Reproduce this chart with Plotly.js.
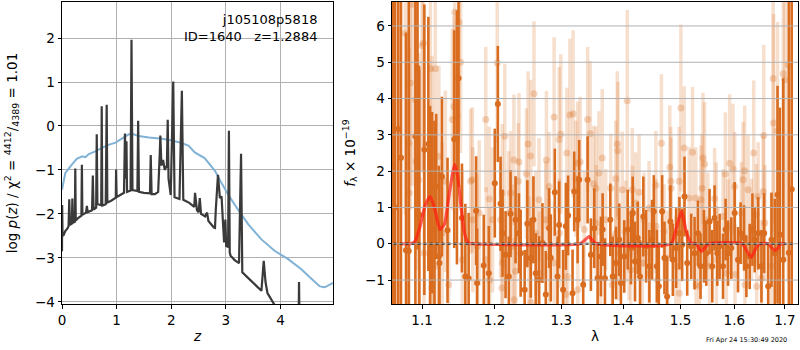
<!DOCTYPE html>
<html>
<head>
<meta charset="utf-8">
<script src="https://cdn.plot.ly/plotly-3.0.1.min.js"></script>
<style>html,body{margin:0;padding:0;background:#fff}#chart{width:800px;height:350px}</style>
</head>
<body>
<div id="chart"></div>
<script>
// ---- left panel: redshift probability ----
const zPz = [0.000,0.003,0.010,0.030,0.060,0.100,0.120,0.133,0.145,0.180,0.190,0.200,0.235,0.243,0.252,0.300,0.355,0.364,0.373,0.440,0.455,0.470,0.550,0.564,0.578,0.625,0.636,0.648,0.718,0.727,0.737,0.800,0.818,0.830,0.900,0.985,0.990,1.000,1.100,1.135,1.152,1.165,1.172,1.180,1.190,1.255,1.272,1.290,1.380,1.394,1.408,1.500,1.610,1.624,1.640,1.700,1.760,1.790,1.800,1.820,1.850,1.880,1.920,1.935,1.950,1.990,2.036,2.060,2.150,2.194,2.220,2.330,2.420,2.435,2.470,2.500,2.522,2.545,2.620,2.655,2.680,2.780,2.800,2.815,2.855,2.890,2.920,2.950,2.967,2.990,3.005,3.040,3.055,3.070,3.085,3.160,3.240,3.277,3.300,3.400,3.650,3.692,3.725,3.760,3.860,3.950,4.000,4.330,4.338,4.350,4.960];
const logPz = [-2.85,-1.80,-2.50,-2.48,-2.39,-2.33,-2.28,-1.67,-2.25,-2.22,-1.65,-2.20,-2.18,-0.97,-2.15,-2.09,-2.04,-0.88,-2.02,-1.97,-1.82,-1.96,-1.92,-1.13,-1.90,-1.86,-0.19,-1.78,-1.80,0.45,-1.81,-1.78,0.48,-1.74,-1.70,-1.63,-0.99,-1.62,-1.55,-1.52,-0.17,-0.90,-1.20,-0.35,-1.50,-1.47,1.96,-1.46,-1.48,0.12,-1.50,-1.52,-1.53,-0.66,-1.55,-1.55,-1.50,-0.60,-0.22,-0.90,-0.77,-1.00,-0.90,0.14,-1.20,-1.57,1.01,-1.62,-1.66,0.80,-1.68,-1.75,-1.84,-1.52,-1.92,-1.96,-1.64,-2.00,-2.06,-1.97,-2.16,-2.31,-2.32,-1.90,-1.11,-1.64,-1.60,-2.28,-2.65,-2.13,-2.73,-2.75,-0.11,-2.88,-2.95,-3.05,-3.12,-0.63,-3.33,-3.45,-3.75,-3.07,-3.55,-3.80,-4.01,-4.20,-4.30,-4.70,-3.55,-4.75,-5.50];
const zPrior = [0.000,0.010,0.061,0.18,0.27,0.37,0.43,0.49,0.61,0.73,0.85,0.98,1.10,1.22,1.31,1.40,1.59,1.83,2.01,2.20,2.32,2.43,2.61,2.80,2.92,3.04,3.22,3.41,3.65,3.89,4.14,4.38,4.57,4.72,4.81,4.93,4.96];
const logPrior = [-1.45,-1.37,-1.07,-0.88,-0.75,-0.69,-0.71,-0.64,-0.58,-0.50,-0.43,-0.38,-0.28,-0.19,-0.19,-0.23,-0.26,-0.29,-0.33,-0.39,-0.45,-0.60,-0.73,-1.02,-1.30,-1.56,-1.90,-2.24,-2.58,-2.84,-3.03,-3.26,-3.48,-3.65,-3.67,-3.59,-3.57];
const zTicks = [0,1,2,3,4];
const logPTicks = [-4,-3,-2,-1,0,1,2];

// ---- right panel: spectrum ----
const lamDark = [1.062,1.065,1.069,1.0725,1.079,1.0825,1.0912,1.094,1.0964,1.1030,1.1083,1.1106,1.1133,1.1165,1.1188,1.1224,1.1232,1.1265,1.1341,1.1433,1.1470,1.1492,1.1539,1.1586,1.1632,1.1737,1.1751,1.1845,1.1917,
1.2003,1.2047,1.2086,1.2115,1.2159,1.2207,1.2232,1.2306,1.2356,1.2381,1.2441,1.2481,1.2531,1.2572,1.2607,1.2657,1.2709,1.2760,1.2811,1.2837,1.2899,1.2941,1.2966,1.3028,1.3071,1.3107,1.3177,1.3203,1.3257,1.3282,1.3346,1.3417,1.3470,1.3524,1.3579,1.3633,1.3661,1.3699,1.3787,1.3827,1.3882,1.3936,1.3964,
1.4020,1.4078,1.4134,1.4163,1.4202,1.4249,1.4288,1.4345,1.4392,1.4449,1.4496,1.4526,1.4579,1.4614,1.4672,1.4713,1.4760,1.4819,1.4862,1.4921,1.4980,1.5029,1.5071,1.5120,1.5193,1.5254,1.5316,1.5364,1.5427,1.5470,1.5531,1.5582,1.5625,1.5676,1.5719,1.5784,1.5833,1.5879,1.5942,
1.6006,1.6071,1.6121,1.6188,1.6233,1.6298,1.6351,1.6396,1.6464,1.6529,1.6583,1.6663,1.6729,1.6796,1.6851,1.6898,1.6967,1.7082,1.7140];
const fluxDark = [2.0,1.0,3.16,2.37,-0.18,-0.20,2.96,4.84,0.80,2.59,2.75,0.80,1.13,0.39,1.58,-0.35,-0.53,1.85,0.37,2.88,2.93,4.56,0.71,-0.90,-0.95,0.91,-1.08,-0.60,-0.81,
1.67,3.85,1.10,0.29,-0.30,-0.90,0.83,0.66,0.29,-0.26,-1.27,0.55,-0.39,0.66,-0.81,-0.99,0.02,-1.40,0.43,-0.39,1.42,-0.90,0.52,-1.27,0.48,0.78,-1.36,1.44,0.66,1.76,-1.13,1.76,-0.30,0.43,-0.95,-0.35,0.39,-0.95,0.66,-0.90,-0.53,0.11,-1.08,
-0.35,0.39,-0.12,0.85,-0.49,0.16,-0.90,0.75,-0.07,-0.62,0.11,0.89,-0.62,-1.17,0.89,-0.39,-1.45,0.61,-0.44,-0.12,0.29,-0.03,1.30,-0.53,-0.07,-0.26,0.29,-0.62,-0.07,-0.26,0.61,-0.62,0.71,-0.26,-0.07,-0.62,0.39,-0.26,-0.12,
0.85,-0.44,0.29,0.16,-0.62,-0.35,0.39,0.11,0.29,-0.62,0.29,-1.17,0.11,-0.26,1.35,0.25,-0.44,-0.25,1.5];
const errDark = [9,9,8,8,6,7,5,5,4,4,3.5,3,2.5,3,2,2.5,2.5,2.2,2,3,3.5,3,1.5,2,1.8,1.5,1.5,1.4,1.3,
1.5,1.6,1.3,1.2,1.2,1.1,1.2,1.2,1.1,1.2,1.1,1.2,1.1,1.2,1.1,1.2,1.1,1.2,1.1,1.2,1.2,1.1,1.2,1.1,1.2,1.1,1.2,1.1,1.2,1.1,1.1,1.2,1.0,1.1,1.0,1.1,1.0,1.1,1.0,1.1,1.0,1.0,1.1,
1.0,1.1,1.0,1.0,1.1,1.0,1.0,1.1,1.0,1.0,1.1,1.0,1.0,1.1,1.0,1.0,1.1,1.0,1.0,1.1,1.0,1.0,1.1,0.9,0.9,1.0,0.9,0.9,1.0,0.9,0.9,1.0,0.9,0.9,0.9,0.9,0.85,0.9,0.85,
0.85,0.9,0.85,0.9,0.85,0.9,1.0,0.9,1.0,1.0,1.1,1.2,1.3,1.5,3.0,3.5,5.0,7.0,8.0];

const lamLight = [1.1440,1.1498,1.1520,1.1429,1.1474,1.1406,1.1017,1.1000,1.0868,1.0780,1.1110,1.1176,1.0912,1.0846,1.0825,1.0920,1.1133,1.1224,1.1312,1.1660,1.1684,1.1874,1.1922,1.1970,1.1140,1.1128,1.1357,1.1170,1.1025,1.1755,1.1880,1.1780,1.1930,1.1544,1.0956,1.0830,1.1690,1.1269,
1.2038,1.2148,1.2281,1.2356,1.2347,1.2232,1.2491,1.2531,1.2581,1.2467,1.2770,1.2888,1.2966,1.2992,1.3087,1.3134,1.3186,1.3257,1.3298,1.3417,1.3459,1.3514,1.3551,1.3229,1.2811,1.2657,1.2110,1.2086,1.2257,1.2115,1.2306,1.2506,1.2660,1.2815,1.2892,1.3097,1.3260,1.3071,1.2105,1.2285,1.2535,1.2207,1.2760,1.2970,1.2607,1.3362,1.3555,
1.4071,1.3903,1.3914,1.3655,1.3877,1.3794,1.3986,1.4156,1.4271,1.4561,1.4659,1.4808,1.4826,1.4830,1.4975,1.5006,1.5066,1.5216,1.5156,1.5278,1.5371,1.3600,1.4214,1.4443,1.3711,1.4160,1.4357,1.4043,1.4565,1.3880,1.4706,1.3628,1.3820,1.4100,1.4129,1.4327,1.4447,1.4766,1.4978,1.5281,1.5340,1.4916,1.4590,1.3930,
1.6763,1.6966,1.6999,1.7068,1.6770,1.6851,1.6575,1.6376,1.5409,1.5439,1.5910,1.5975,1.6199,1.5828,1.6168,1.5390,1.5625,1.6006,1.6266,1.6563,1.6464,1.5657,1.5784,1.5500,1.6135,1.6430,1.6596,1.5879,1.6331,1.5531,1.5847,1.6012,1.6205,1.6434,1.6529,1.6729,1.5660];
const fluxLight = [6.38,6.10,5.00,3.78,3.51,3.42,5.53,5.46,6.60,5.80,4.82,4.82,3.97,4.43,2.77,2.27,2.68,2.41,1.72,1.72,1.76,3.42,1.23,0.66,-1.08,-1.22,-1.13,-0.62,-0.26,-0.07,-0.44,0.85,-0.99,-0.44,1.76,1.40,0.66,0.29,
4.98,2.96,2.31,2.25,1.72,1.40,2.75,2.42,4.13,1.93,2.31,3.49,2.87,3.02,2.50,3.55,3.58,2.22,2.25,3.42,3.03,1.65,1.53,1.79,1.58,1.21,1.40,0.66,-0.07,-0.53,-0.76,-0.49,-0.81,-0.35,-0.53,-0.90,-1.27,-1.40,-1.22,-1.54,-1.62,0.85,0.66,0.29,0.29,0.39,0.57,
3.94,2.75,2.56,2.36,1.79,1.53,1.49,1.49,1.42,1.61,2.77,2.11,1.72,1.53,1.72,3.74,2.64,2.52,1.26,1.26,1.21,1.95,1.12,0.98,0.66,0.85,0.66,0.34,0.48,0.29,0.34,-0.95,-1.13,-0.26,-0.72,-0.53,-0.81,-0.39,-1.36,-1.13,-1.18,-0.62,-0.99,-0.26,
4.55,4.68,4.52,4.93,3.33,3.11,2.98,2.50,2.36,2.20,2.22,2.06,2.01,1.92,1.76,1.53,1.24,1.58,1.49,1.44,1.30,0.94,0.75,0.66,0.85,0.80,0.57,0.48,0.39,-0.62,-0.81,-0.85,-1.13,-1.18,-0.95,-0.62,-0.44];
const errLight = [3.5,3.0,2.5,2.5,2.5,2.5,3.5,3.5,5,5,3,3,3,3.5,3,3,2.5,2.5,2.5,2,2,2,2,2,3,3,2.5,2.5,3,2,2,2,2,2.5,3.5,4,2,2.5,
2.2,2.0,1.8,1.9,1.6,1.7,2.0,2.1,2.0,1.8,1.9,2.2,2.0,2.2,1.8,2.1,2.3,1.7,1.8,2.0,2.0,1.6,1.7,1.6,1.5,1.7,1.9,1.6,1.7,1.8,1.6,1.8,1.7,1.6,1.7,1.8,1.9,1.8,1.9,1.7,1.8,1.7,1.6,1.5,1.7,1.6,1.6,
2.5,2.0,1.9,1.9,1.6,1.5,1.6,1.7,1.6,1.5,1.9,1.7,1.5,1.4,1.5,2.3,1.7,1.8,1.4,1.4,1.5,1.7,1.4,1.3,1.4,1.3,1.3,1.4,1.3,1.4,1.3,1.5,1.4,1.3,1.4,1.3,1.4,1.3,1.5,1.4,1.5,1.4,1.4,1.3,
4,5,5,6,3,3,2.5,2,1.8,1.7,1.9,1.8,1.8,1.7,1.6,1.5,1.4,1.5,1.5,1.6,1.5,1.3,1.3,1.3,1.4,1.4,1.6,1.3,1.4,1.3,1.3,1.4,1.4,1.5,1.6,2.0,1.3];

const lamModel = [1.0735,1.085,1.090,1.097,1.104,1.1106,1.117,1.124,1.130,1.137,1.144,1.148,1.153,1.158,1.163,1.170,1.330,1.336,1.344,1.350,1.356,1.483,1.490,1.502,1.510,1.519,1.528,1.538,1.546,1.552,1.615,1.625,1.633,1.642,1.650,1.667,1.674,1.680,1.686,1.692,1.700];
const fluxModel = [0,0,0.05,0.45,1.05,1.30,0.95,0.39,0.55,1.45,2.18,1.85,0.95,0.25,0.02,0,0,0.08,0.20,0.08,0,0,0.30,0.89,0.35,0.02,0,-0.21,-0.08,0,0,-0.22,-0.37,-0.12,0,0,-0.12,-0.18,-0.12,0,0];
const lamZero = [1.063,1.718];
const fluxZero = [0,0];
const lamTicks = [1.1,1.2,1.3,1.4,1.5,1.6,1.7];
const lamTickText = ['1.1','1.2','1.3','1.4','1.5','1.6','1.7'];
const fluxTicks = [-1,0,1,2,3,4,5,6];

const ORANGE = 'rgb(217,108,30)';
const FONT = 'DejaVu Sans, Liberation Sans, sans-serif';
const GRID = '#b0b0b0';

const traces = [
  {x: zPrior, y: logPrior, xaxis:'x', yaxis:'y', mode:'lines', line:{color:'rgb(128,178,214)', width:2}},
  {x: zPz, y: logPz, xaxis:'x', yaxis:'y', mode:'lines', line:{color:'rgb(58,58,58)', width:2.2}},
  {x: lamLight, y: fluxLight, xaxis:'x2', yaxis:'y2', mode:'markers',
   marker:{size:7, color:'rgba(217,108,30,0.28)'},
   error_y:{type:'data', array: errLight, visible:true, thickness:3.5, width:0, color:'rgba(217,108,30,0.22)'}},
  {x: lamDark, y: fluxDark, xaxis:'x2', yaxis:'y2', mode:'markers',
   marker:{size:6, color:ORANGE},
   error_y:{type:'data', array: errDark, visible:true, thickness:2.6, width:0, color:ORANGE}},
  {x: lamModel, y: fluxModel, xaxis:'x2', yaxis:'y2', mode:'lines', line:{color:'rgba(255,30,20,0.72)', width:3.2, shape:'spline', smoothing:0.6}},
  {x: lamZero, y: fluxZero, xaxis:'x2', yaxis:'y2', mode:'lines', line:{color:'black', width:1.8, dash:'dot'}}
];

const axBase = {
  showline:true, linecolor:'black', linewidth:1, mirror:true,
  ticks:'outside', ticklen:3.5, tickcolor:'black', tickwidth:1,
  showgrid:true, gridcolor:GRID, gridwidth:1, zeroline:false,
  tickfont:{family:FONT, size:13.5, color:'black'}
};

// right-panel grid drawn above the data, as in the reference
const gridShapes = [];
lamTicks.forEach(v => gridShapes.push({type:'line', layer:'above', xref:'x2', yref:'y2 domain',
  x0:Math.log10(v), x1:Math.log10(v), y0:0, y1:1, line:{color:GRID, width:1}}));
fluxTicks.forEach(v => gridShapes.push({type:'line', layer:'above', xref:'x2 domain', yref:'y2',
  x0:0, x1:1, y0:v, y1:v, line:{color:GRID, width:1}}));

const layout = {
  width:800, height:350,
  margin:{l:0, r:0, t:0, b:0},
  paper_bgcolor:'white', plot_bgcolor:'white',
  showlegend:false, hovermode:false,
  font:{family:FONT, size:13.5, color:'black'},
  xaxis: Object.assign({}, axBase, {domain:[0.0775,0.41625], range:[0,4.96], tickmode:'array', tickvals:zTicks,
    title:{text:'<i>z</i>', font:{family:FONT, size:13.5}, standoff:4}}),
  yaxis: Object.assign({}, axBase, {domain:[0.1314,0.9943], range:[-4.05,2.82], tickmode:'array', tickvals:logPTicks,
    title:{text:'log <i>p</i>(<i>z</i>) / χ<sup>2</sup> = <sup>4412</sup>/<sub>4389</sub> = 1.01', font:{family:FONT, size:13.5}, standoff:14}}),
  xaxis2: Object.assign({}, axBase, {domain:[0.49,0.9975], anchor:'y2', type:'log', range:[Math.log10(1.061), Math.log10(1.727)],
    tickmode:'array', tickvals:lamTicks, ticktext:lamTickText, showgrid:false,
    title:{text:'λ', font:{family:FONT, size:13.5}, standoff:4}}),
  yaxis2: Object.assign({}, axBase, {domain:[0.1314,0.9943], anchor:'x2', range:[-1.66,6.66], tickmode:'array', tickvals:fluxTicks, showgrid:false,
    title:{text:'<i>f</i><sub>λ</sub> × 10<sup>−19</sup>', font:{family:FONT, size:13.5}, standoff:6}}),
  shapes: gridShapes,
  annotations:[
    {xref:'paper', yref:'paper', x:0.3985, y:0.972, xanchor:'right', yanchor:'top', align:'right', showarrow:false,
     text:'j105108p5818<br>ID=1640&nbsp;&nbsp;&nbsp;z=1.2884', font:{family:FONT, size:13, color:'black'}},
    {xref:'paper', yref:'paper', x:0.986, y:0.028, xanchor:'right', yanchor:'middle', showarrow:false,
     text:'Fri Apr 24 15:30:49 2020', font:{family:FONT, size:6.5, color:'black'}}
  ]
};

Plotly.newPlot('chart', traces, layout, {staticPlot:true, displayModeBar:false});
</script>
</body>
</html>
